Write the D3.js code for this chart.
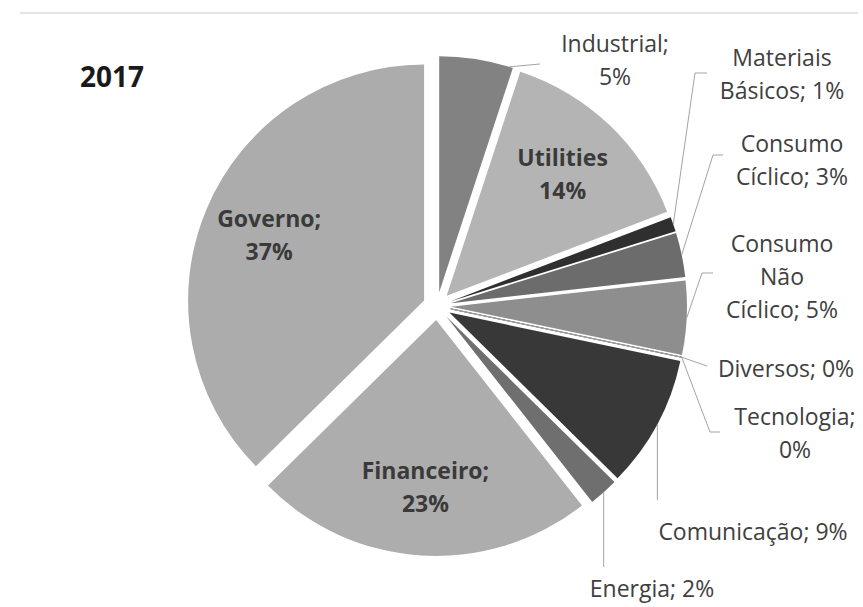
<!DOCTYPE html>
<html>
<head>
<meta charset="utf-8">
<script src="https://cdn.jsdelivr.net/npm/d3@7"></script>
<style>
  body { margin: 0; background: #fff; }
  svg { display: block; }
</style>
</head>
<body>
<svg id="chart" width="863" height="607"></svg>
<script>
// Sector breakdown, 2017 (percent of total)
const title = "2017";
const categories = ["Industrial", "Utilities", "Materiais Básicos", "Consumo Cíclico",
  "Consumo Não Cíclico", "Diversos", "Tecnologia", "Comunicação", "Energia",
  "Financeiro", "Governo"];
const shares = [5, 14, 1, 3, 5, 0, 0, 9, 2, 23, 37];
const sliceColors = ["#828282", "#b4b4b4", "#2f2f2f", "#6c6c6c", "#8e8e8e",
  "#8a8a8a", "#8a8a8a", "#383838", "#6f6f6f", "#adadad", "#acacac"];

// Pie geometry
const W = 863, H = 607;
const cx = 437, cy = 306, R = 236, explode = 14;
const fontFamily = "'Open Sans', 'DejaVu Sans', sans-serif";
const fontSize = 23, lineGap = 33;

// Label placement: word counts per line; inside labels sit on the bisector,
// outside labels get a leader line from the slice edge.
const labelLayout = {
  "Industrial":          { lines: [1, 1], x: 615, y: 52, anchor: 0.95, pts: [[540, 64]] },
  "Utilities":           { lines: [1, 1], inside: true, bold: true, sep: "" },
  "Materiais Básicos":   { lines: [1, 2], x: 782, y: 66, anchor: 0.5, pts: [[695, 73], [707, 73]] },
  "Consumo Cíclico":     { lines: [1, 2], x: 792, y: 152, anchor: 0.5, pts: [[713, 155], [723, 155]] },
  "Consumo Não Cíclico": { lines: [1, 1, 2], x: 782, y: 252, anchor: 0.5, pts: [[702, 273], [713, 273]] },
  "Diversos":            { lines: [2], x: 786, y: 377, anchor: 0.5, pts: [[707, 366]] },
  "Tecnologia":          { lines: [1, 1], x: 795, y: 425, anchor: 0.5, pts: [[710, 432], [720, 432]] },
  "Comunicação":         { lines: [2], x: 753, y: 540, anchor: 0.5, pts: [[null, 500]] },
  "Energia":             { lines: [2], x: 652, y: 597, anchor: 0.5, pts: [[null, 567]] },
  "Financeiro":          { lines: [1, 1], inside: true, bold: true },
  "Governo":             { lines: [1, 1], inside: true, bold: true }
};

const svg = d3.select("#chart");
svg.append("rect").attr("width", W).attr("height", H).attr("fill", "#fff");

// faint rule along the top edge of the page
svg.append("line")
  .attr("x1", 20).attr("x2", 858).attr("y1", 13).attr("y2", 13)
  .attr("stroke", "#e4e4e4").attr("stroke-width", 2);

const pie = d3.pie().sort(null).value(d => d.value);
const arcs = pie(categories.map((c, i) => ({ name: c, value: shares[i], color: sliceColors[i] })));
const arc = d3.arc().innerRadius(0).outerRadius(R);

const mid = a => (a.startAngle + a.endAngle) / 2;
const apex = a => {
  const m = mid(a);
  return [cx + explode * Math.sin(m), cy - explode * Math.cos(m)];
};
const onRim = (a, t) => {
  const p = apex(a);
  const ang = a.startAngle + (a.endAngle - a.startAngle) * t;
  return [p[0] + R * Math.sin(ang), p[1] - R * Math.cos(ang)];
};

// slices, each pushed out along its bisector
svg.append("g").selectAll("path")
  .data(arcs)
  .join("path")
  .attr("transform", d => `translate(${apex(d)})`)
  .attr("d", arc)
  .attr("fill", d => d.data.color)
  .attr("stroke", d => d.data.value === 0 ? "#9a9a9a" : "none")
  .attr("stroke-width", 1);

// leader lines
const leaders = svg.append("g").attr("fill", "none").attr("stroke", "#a3a3a3").attr("stroke-width", 1);
arcs.forEach(a => {
  const L = labelLayout[a.data.name];
  if (L.inside) return;
  const s = onRim(a, L.anchor);
  const pts = [s].concat(L.pts.map(p => [p[0] == null ? s[0] : p[0], p[1]]));
  leaders.append("path").attr("d", d3.line()(pts));
});

// label text
const labels = svg.append("g")
  .attr("font-family", fontFamily)
  .attr("font-size", fontSize)
  .attr("text-anchor", "middle")
  .attr("fill", "#404040");

arcs.forEach(a => {
  const L = labelLayout[a.data.name];
  const sep = L.sep === undefined ? ";" : L.sep;
  const words = a.data.name.split(" ");
  words[words.length - 1] += sep;
  words.push(a.data.value + "%");
  const lines = [];
  let k = 0;
  L.lines.forEach(n => { lines.push(words.slice(k, k + n).join(" ")); k += n; });

  let x, y0;
  if (L.inside) {
    const p = apex(a), m = mid(a), r = 168;
    x = p[0] + r * Math.sin(m);
    const yc = p[1] - r * Math.cos(m);
    y0 = yc - (lines.length - 1) * lineGap / 2 + 8;
  } else {
    x = L.x; y0 = L.y;
  }
  const t = labels.append("text")
    .attr("font-weight", L.bold ? "bold" : "normal")
    .attr("fill", L.bold ? "#3a3a3a" : "#404040");
  lines.forEach((ln, i) => {
    t.append("tspan").attr("x", x).attr("y", y0 + i * lineGap).text(ln);
  });
});

// year heading
svg.append("text")
  .attr("x", 80).attr("y", 87)
  .attr("font-family", fontFamily)
  .attr("font-size", 28)
  .attr("font-weight", "bold")
  .attr("fill", "#1a1a1a")
  .text(title);
</script>
</body>
</html>
